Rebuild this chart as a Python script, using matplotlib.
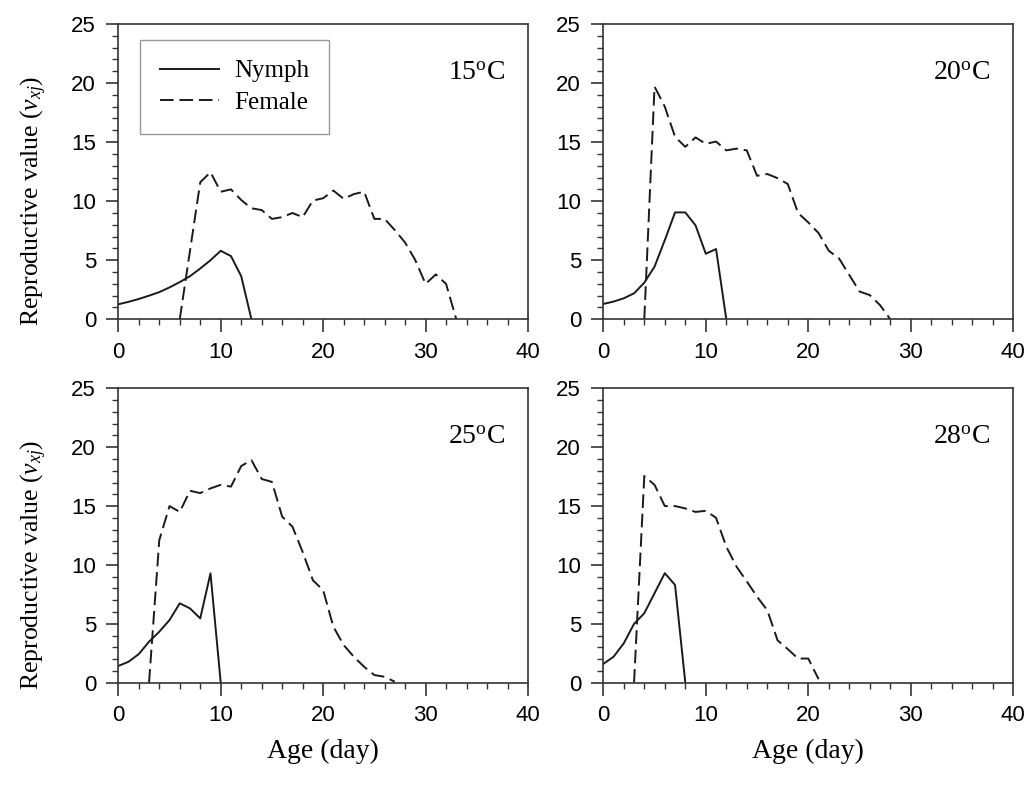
import matplotlib
matplotlib.use('Agg')
import matplotlib.pyplot as plt
from matplotlib.ticker import MultipleLocator

plt.rcParams['font.family'] = ['Liberation Sans', 'DejaVu Sans']
plt.rcParams['mathtext.fontset'] = 'custom'
plt.rcParams['mathtext.rm'] = 'Liberation Serif'
plt.rcParams['mathtext.it'] = 'Liberation Serif:italic'

# data
temps = ['15', '20', '25', '28']

age_nymph_15 = list(range(0, 14))
nymph_15 = [1.27, 1.48, 1.72, 2.0, 2.3, 2.7, 3.15, 3.65, 4.3, 5.0, 5.8, 5.35, 3.65, 0]
age_female_15 = [6, 8, 9, 10, 11, 12, 13, 14, 15, 16, 17, 18, 19, 20, 21, 22, 23, 24, 25, 26, 27, 28, 29, 30, 31, 32, 33]
female_15 = [0, 11.6, 12.45, 10.8, 11.0, 10.1, 9.4, 9.25, 8.5, 8.65, 9.0, 8.65, 10.05, 10.25,
             10.9, 10.2, 10.6, 10.8, 8.5, 8.5, 7.55, 6.5, 5.0, 3.0, 3.8, 3.0, 0]

age_nymph_20 = list(range(0, 13))
nymph_20 = [1.3, 1.5, 1.78, 2.2, 3.1, 4.46, 6.7, 9.05, 9.05, 7.95, 5.55, 5.95, 0]
age_female_20 = list(range(4, 29))
female_20 = [0, 19.7, 18.0, 15.45, 14.6, 15.4, 14.85, 15.05, 14.3, 14.45, 14.3, 12.15, 12.3,
             11.95, 11.45, 9.0, 8.2, 7.3, 5.8, 5.15, 3.75, 2.35, 2.05, 1.2, 0]

age_nymph_25 = list(range(0, 11))
nymph_25 = [1.42, 1.78, 2.43, 3.48, 4.33, 5.32, 6.74, 6.31, 5.46, 9.29, 0]
age_female_25 = list(range(3, 28))
female_25 = [0, 12.1, 15.0, 14.5, 16.3, 16.1, 16.5, 16.8, 16.65, 18.4, 18.9, 17.3, 17.05,
             14.1, 13.25, 11.1, 8.7, 7.85, 4.75, 3.2, 2.2, 1.35, 0.65, 0.5, 0.08]

age_nymph_28 = list(range(0, 9))
nymph_28 = [1.6, 2.2, 3.35, 5.0, 5.9, 7.6, 9.3, 8.3, 0]
age_female_28 = list(range(3, 22))
female_28 = [0, 17.55, 16.8, 15.0, 15.0, 14.8, 14.5, 14.6, 14.0, 11.55, 9.85, 8.6, 7.3,
             6.15, 3.6, 2.85, 2.05, 2.05, 0.3]

panels = [
    (age_nymph_15, nymph_15, age_female_15, female_15),
    (age_nymph_20, nymph_20, age_female_20, female_20),
    (age_nymph_25, nymph_25, age_female_25, female_25),
    (age_nymph_28, nymph_28, age_female_28, female_28),
]

W, H = 1030, 789
fig = plt.figure(figsize=(W / 100, H / 100), dpi=100)

# axes boxes in pixels: left, top, right, bottom
boxes = [(118.3, 24, 528, 319.3), (603.3, 24, 1013.3, 319.3),
         (118.3, 388.3, 528, 682.7), (603.3, 388.3, 1013.3, 682.7)]

serif = 'Liberation Serif'
lc = '#1a1a1a'

for i, (box, (an, yn, af, yf)) in enumerate(zip(boxes, panels)):
    l, t, r, b = box
    ax = fig.add_axes([l / W, 1 - b / H, (r - l) / W, (b - t) / H])
    ax.plot(an, yn, color=lc, lw=1.4, label='Nymph')
    ax.plot(af, yf, color=lc, lw=1.4, linestyle=(0, (7.0, 3.0)), label='Female')
    ax.set_xlim(0, 40)
    ax.set_ylim(0, 25)
    ax.xaxis.set_major_locator(MultipleLocator(10))
    ax.xaxis.set_minor_locator(MultipleLocator(2))
    ax.yaxis.set_major_locator(MultipleLocator(5))
    ax.yaxis.set_minor_locator(MultipleLocator(1))
    ax.tick_params(which='major', direction='out', length=9, width=1.2, labelsize=16,
                   color='#333333', pad=7)
    ax.tick_params(which='minor', direction='out', length=4.5, width=1.0, color='#333333')
    for s in ax.spines.values():
        s.set_linewidth(1.2)
        s.set_color('#333333')
    ax.text(37.8, 20.3, temps[i] + r'$^{\rm o}$C', ha='right', va='baseline',
            fontsize=20, family=serif)
    if i % 2 == 0:
        ax.set_ylabel(r'Reproductive value ($v_{xj}$)', fontsize=18.5, family=serif)
        ax.yaxis.set_label_coords(-0.17, 0.4)
    if i >= 2:
        ax.set_xlabel('Age (day)', fontsize=20, family=serif, labelpad=9)
    if i == 0:
        leg = ax.legend(loc='upper left', bbox_to_anchor=(0.053, 0.946), borderaxespad=0,
                        prop={'family': serif, 'size': 18}, handlelength=2.35,
                        handletextpad=0.6, labelspacing=0.35, borderpad=0.8,
                        fancybox=False, framealpha=1)
        leg.get_frame().set_edgecolor('#999999')
        leg.get_frame().set_linewidth(1.0)

fig.savefig('out.png', dpi=100)
